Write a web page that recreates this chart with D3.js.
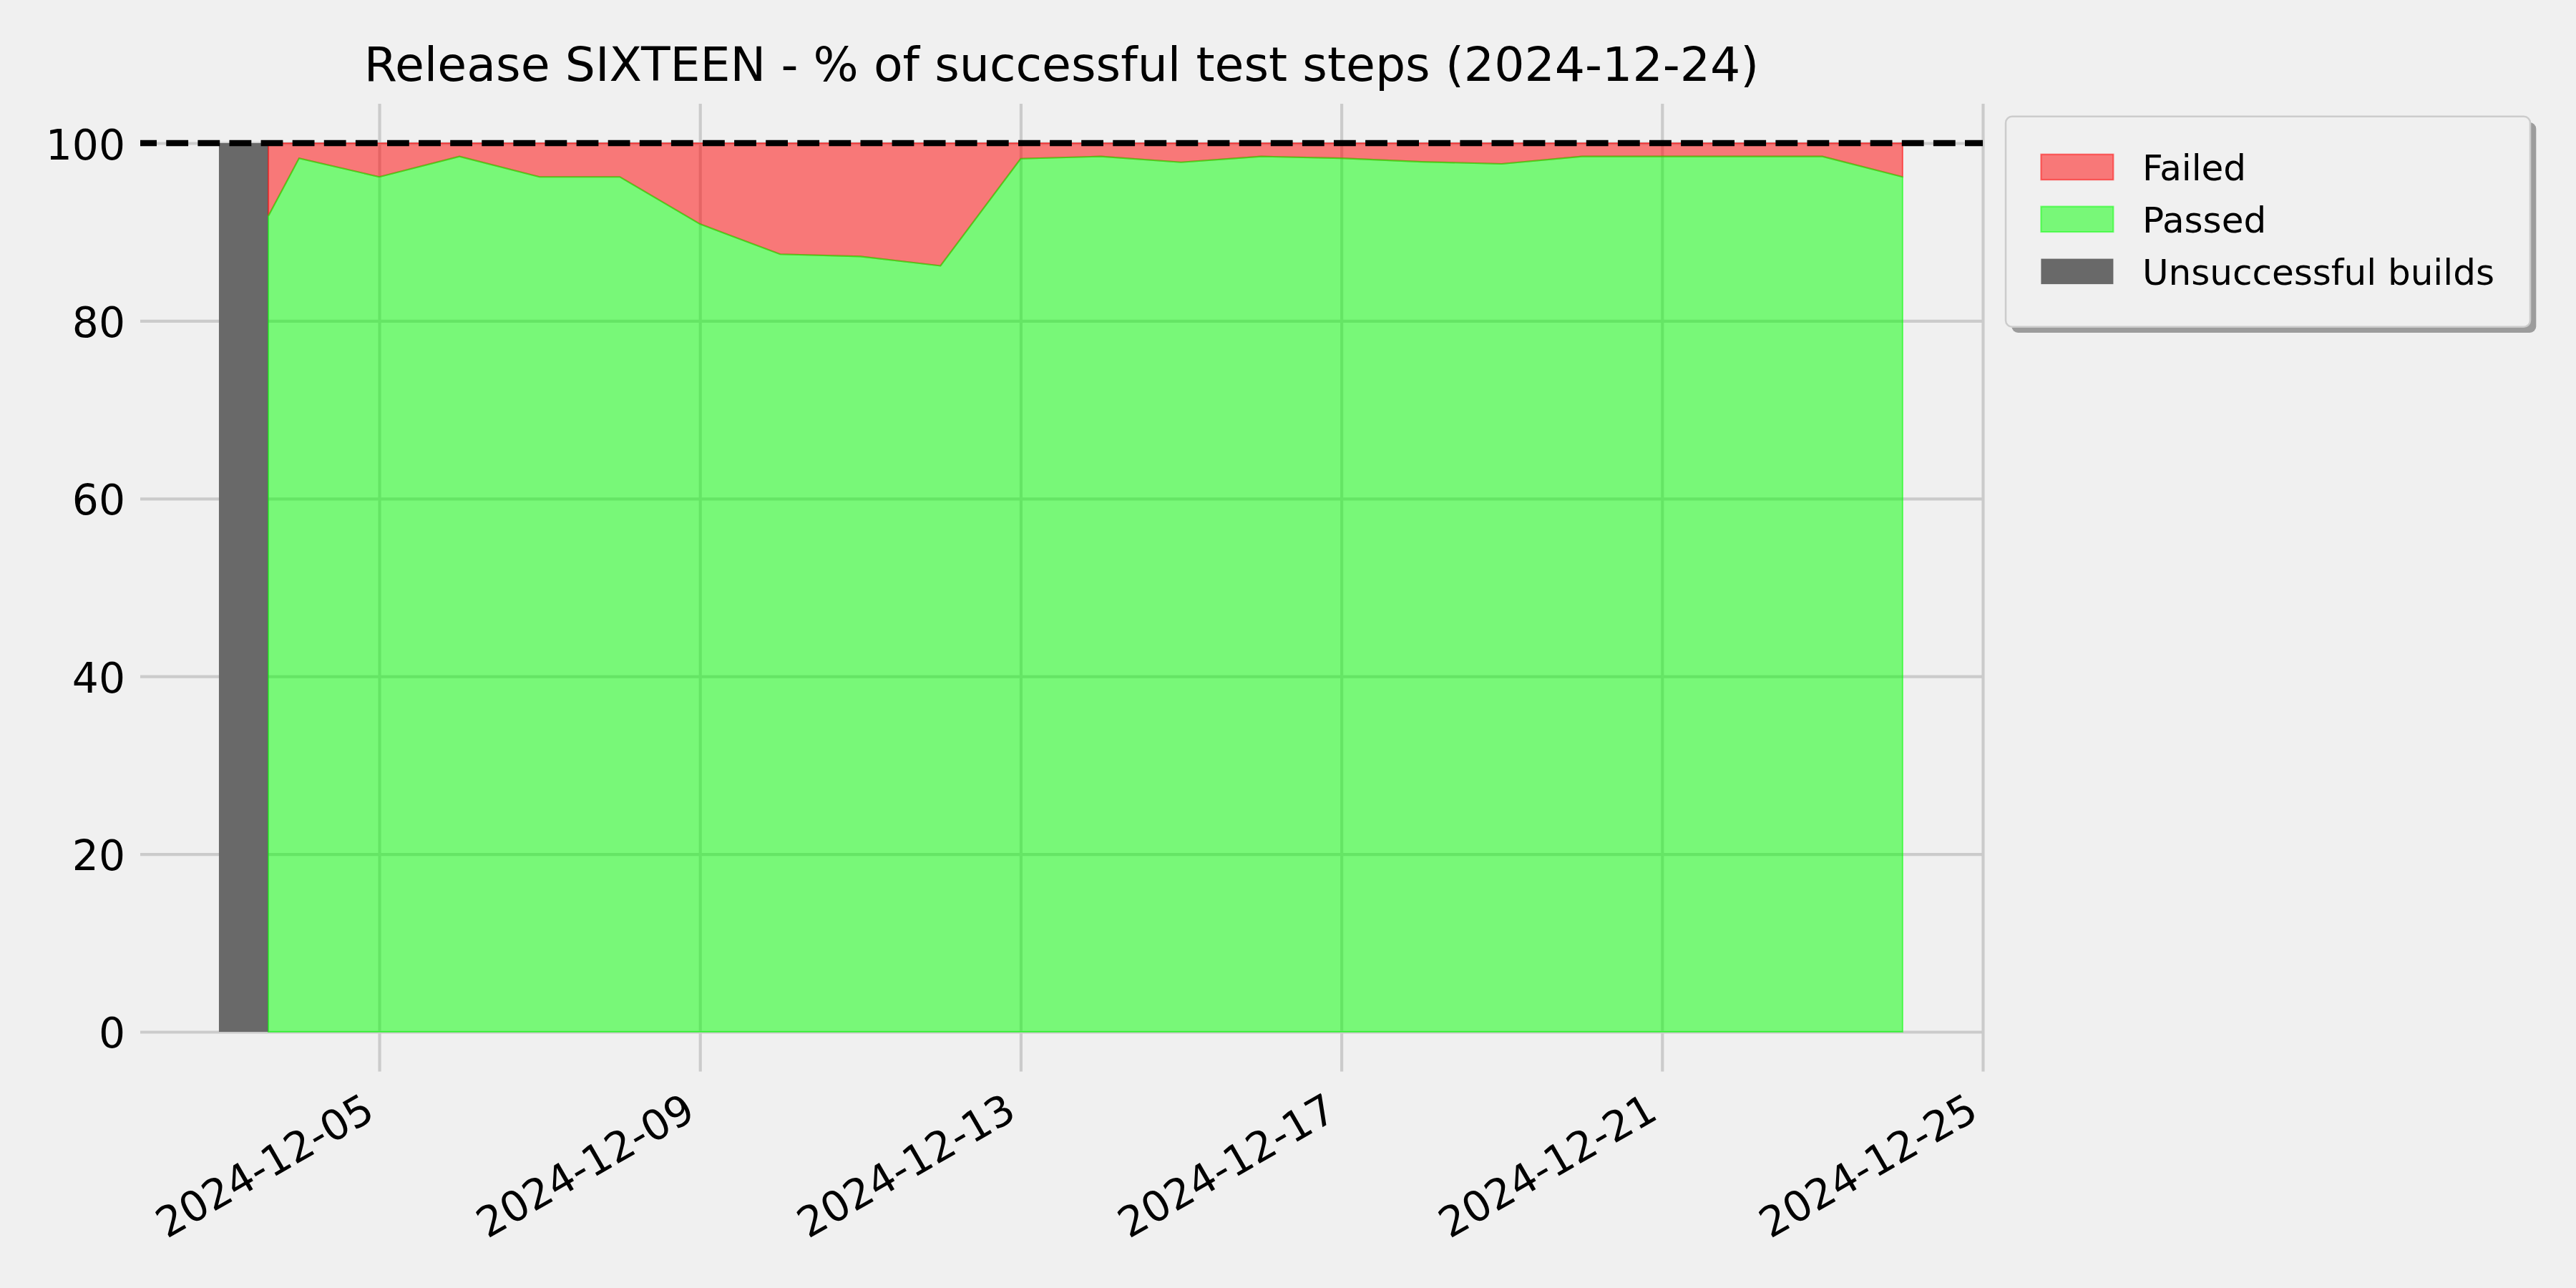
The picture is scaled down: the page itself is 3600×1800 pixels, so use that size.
<!DOCTYPE html>
<html>
<head>
<meta charset="utf-8">
<script src="https://cdn.jsdelivr.net/npm/d3@7"></script>
<style>
  html, body { margin: 0; padding: 0; background: #f0f0f0; }
  svg { display: block; font-family: "DejaVu Sans", sans-serif; }
</style>
</head>
<body>
<svg id="chart" width="3600" height="1800"></svg>
<script>
// ---------------- data ----------------
const chartTitle = "Release SIXTEEN - % of successful test steps (2024-12-24)";
const runDates = [
  "2024-12-03T14:48", "2024-12-04T00:00", "2024-12-05T00:00", "2024-12-06T00:00",
  "2024-12-07T00:00", "2024-12-08T00:00", "2024-12-09T00:00", "2024-12-10T00:00",
  "2024-12-11T00:00", "2024-12-12T00:00", "2024-12-13T00:00", "2024-12-14T00:00",
  "2024-12-15T00:00", "2024-12-16T00:00", "2024-12-17T00:00", "2024-12-18T00:00",
  "2024-12-19T00:00", "2024-12-20T00:00", "2024-12-21T00:00", "2024-12-22T00:00",
  "2024-12-23T00:00", "2024-12-24T00:00"
];
const passedPct = [
  91.8, 98.3, 96.2, 98.5, 96.2, 96.2, 90.9, 87.5, 87.25, 86.2, 98.25,
  98.5, 97.85, 98.5, 98.3, 97.9, 97.66, 98.5, 98.5, 98.5, 98.5, 96.2
];
const failedPct = [
  8.2, 1.7, 3.8, 1.5, 3.8, 3.8, 9.1, 12.5, 12.75, 13.8, 1.75,
  1.5, 2.15, 1.5, 1.7, 2.1, 2.34, 1.5, 1.5, 1.5, 1.5, 3.8
];
const unsuccessfulStart = ["2024-12-03T00:00"];
const unsuccessfulEnd   = ["2024-12-03T14:48"];
const unsuccessfulTop   = [100];
const targetValue = 100;
const xTickLabels = ["2024-12-05", "2024-12-09", "2024-12-13", "2024-12-17", "2024-12-21", "2024-12-25"];
const yTickValues = [0, 20, 40, 60, 80, 100];
const legendLabels = ["Failed", "Passed", "Unsuccessful builds"];
const xDomainDates = ["2024-12-02T00:27", "2024-12-25T00:00"];
const yDomainValues = [-4.47, 104.43];

// ---------------- layout ----------------
const W = 3600, H = 1800;
const plot = { left: 196, right: 2771, top: 145, bottom: 1497.5 };
const FONT = 58.3;
const parseDT = d3.utcParse("%Y-%m-%dT%H:%M");
const parseD = d3.utcParse("%Y-%m-%d");

const svg = d3.select("#chart");
svg.append("rect").attr("width", W).attr("height", H).attr("fill", "#f0f0f0");

const x = d3.scaleUtc().domain(xDomainDates.map(parseDT)).range([plot.left, plot.right]);
const y = d3.scaleLinear().domain(yDomainValues).range([plot.bottom, plot.top]);

const gridColor = "#cbcbcb", gridW = 4.17;

// y axis + horizontal grid
const yAxis = d3.axisLeft(y).tickValues(yTickValues).tickSize(-(plot.right - plot.left)).tickFormat(d3.format("d"));
const gy = svg.append("g").attr("transform", `translate(${plot.left},0)`).call(yAxis);
gy.select(".domain").remove();
gy.selectAll(".tick line").attr("stroke", gridColor).attr("stroke-width", gridW);
gy.selectAll(".tick text")
  .attr("x", -21).attr("dy", 22).attr("fill", "#000")
  .attr("font-size", FONT).attr("font-family", "DejaVu Sans").attr("text-anchor", "end");

// x axis + vertical grid
const xAxis = d3.axisBottom(x).tickValues(xTickLabels.map(parseD))
  .tickSize(-(plot.bottom - plot.top)).tickFormat(d3.utcFormat("%Y-%m-%d"));
const gx = svg.append("g").attr("transform", `translate(0,${plot.bottom})`).call(xAxis);
gx.select(".domain").remove();
gx.selectAll(".tick line").attr("stroke", gridColor).attr("stroke-width", gridW);
gx.selectAll(".tick text")
  .attr("x", 0).attr("y", 0).attr("dy", null)
  .attr("transform", "translate(-4,64.5) rotate(-30)")
  .attr("text-anchor", "end").attr("fill", "#000")
  .attr("font-size", FONT).attr("font-family", "DejaVu Sans");

// stacked areas
const rows = runDates.map((d, i) => ({ date: parseDT(d), passed: passedPct[i], failed: failedPct[i] }));
const stack = d3.stack().keys(["passed", "failed"]);
const layers = stack(rows);
const area = d3.area().x(d => x(d.data.date)).y0(d => y(d[0])).y1(d => y(d[1]));
const colorOf = { passed: "rgb(0,255,0)", failed: "rgb(255,0,0)" };

// unsuccessful builds (opaque)
svg.append("g").selectAll("rect")
  .data(unsuccessfulStart.map((s, i) => ({ s: parseDT(s), e: parseDT(unsuccessfulEnd[i]), top: unsuccessfulTop[i] })))
  .join("rect")
  .attr("x", d => x(d.s)).attr("width", d => x(d.e) - x(d.s))
  .attr("y", d => y(d.top)).attr("height", d => y(0) - y(d.top))
  .attr("fill", "#696969");

// draw failed layer first so the passed edge sits on top of the boundary
svg.append("g").selectAll("path").data(layers.slice().reverse()).join("path")
  .attr("d", area)
  .attr("fill", d => colorOf[d.key]).attr("fill-opacity", 0.5)
  .attr("stroke", d => colorOf[d.key]).attr("stroke-opacity", 0.5)
  .attr("stroke-width", 2.08).attr("stroke-linejoin", "miter");

// target dashed line
svg.append("line")
  .attr("x1", plot.left).attr("x2", plot.right)
  .attr("y1", y(targetValue)).attr("y2", y(targetValue))
  .attr("stroke", "#000").attr("stroke-width", 8.33)
  .attr("stroke-dasharray", "30.8,13.3").attr("stroke-dashoffset", 7.8);

// title
svg.append("text")
  .attr("x", (plot.left + plot.right) / 2).attr("y", 112.7)
  .attr("text-anchor", "middle").attr("font-size", 66.5).attr("fill", "#000")
  .text(chartTitle);

// legend
const lg = { x: 2803, y: 162.7, w: 733, h: 294, r: 9 };
svg.append("rect").attr("x", lg.x + 8.3).attr("y", lg.y + 8.3).attr("width", lg.w).attr("height", lg.h)
  .attr("rx", lg.r).attr("fill", "#9c9c9c");
svg.append("rect").attr("x", lg.x).attr("y", lg.y).attr("width", lg.w).attr("height", lg.h)
  .attr("rx", lg.r).attr("fill", "#f0f0f0").attr("stroke", "#cccccc").attr("stroke-width", 2.5);

const legendStyle = [
  { fill: "rgb(255,0,0)", fo: 0.5, stroke: "rgb(255,0,0)", so: 0.5 },
  { fill: "rgb(0,255,0)", fo: 0.5, stroke: "rgb(0,255,0)", so: 0.5 },
  { fill: "#696969", fo: 1, stroke: "none", so: 0 }
];
const rowTop = [215.7, 288.6, 361.6];
const lgItems = svg.append("g").selectAll("g").data(legendLabels).join("g");
lgItems.append("rect")
  .attr("x", 2852.4).attr("y", (d, i) => rowTop[i]).attr("width", 101).attr("height", 35.5)
  .attr("fill", (d, i) => legendStyle[i].fill).attr("fill-opacity", (d, i) => legendStyle[i].fo)
  .attr("stroke", (d, i) => legendStyle[i].stroke).attr("stroke-opacity", (d, i) => legendStyle[i].so)
  .attr("stroke-width", 2.08);
lgItems.append("text")
  .attr("x", 2994).attr("y", (d, i) => rowTop[i] + 36)
  .attr("font-size", 50).attr("fill", "#000")
  .text(d => d);
</script>
</body>
</html>
